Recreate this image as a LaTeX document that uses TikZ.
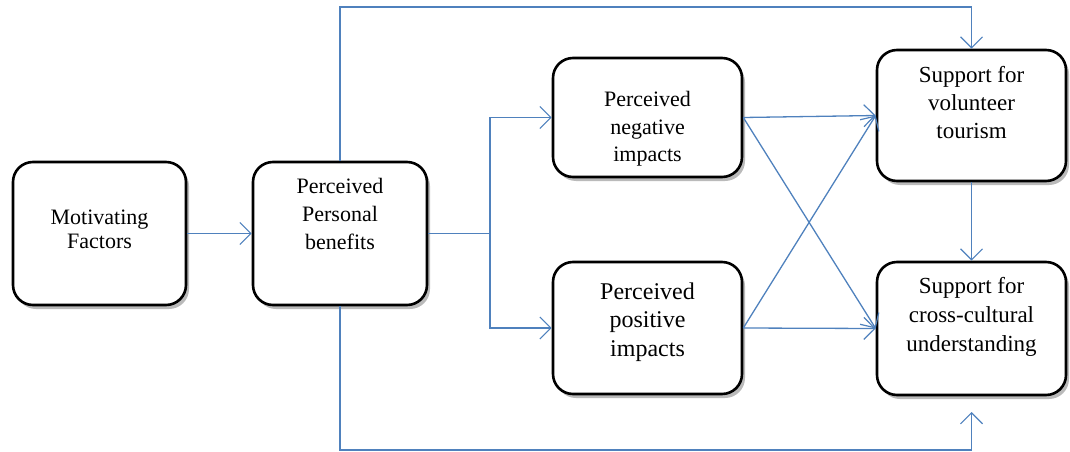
\documentclass[tikz,border=0pt]{standalone}
\usepackage{fontspec}
\setmainfont{Liberation Serif}
\usetikzlibrary{arrows.meta,shadows}
\definecolor{conn}{HTML}{4F81BD}
\tikzset{
  box/.style={draw=black, line width=2.6pt, rounded corners=20pt, fill=white,
    drop shadow={shadow xshift=3pt, shadow yshift=-4pt, fill=black!45, opacity=0.6},
    inner sep=0pt},
  lbl/.style={align=center, inner sep=0pt, font=\fontsize{22}{28}\selectfont},
  arr/.style={draw=conn, line width=1.3pt, -{Straight Barb[length=11pt,width=22pt,line width=1.2pt]}},
  ln/.style={draw=conn, line width=1.3pt}
}
\begin{document}
\begin{tikzpicture}[x=1pt,y=-1pt]
\useasboundingbox (0,0) rectangle (1070,452);
% boxes
\node[box, minimum width=173pt, minimum height=143pt] (mf)  at (99.5,233.5) {};
\node[box, minimum width=174pt, minimum height=143pt] (ppb) at (340,233.5) {};
\node[box, minimum width=189pt, minimum height=119pt] (pni) at (647.5,117.5) {};
\node[box, minimum width=189pt, minimum height=132pt] (ppi) at (647.5,328) {};
\node[box, minimum width=189pt, minimum height=131pt] (svt) at (971.5,115.5) {};
\node[box, minimum width=189pt, minimum height=133pt] (scu) at (971.5,328.5) {};
% texts
\node[lbl, font=\fontsize{22}{24}\selectfont] (mft) at (99.5,229) {Motivating\\Factors};
\node[lbl] (ppbt) at (340,214) {Perceived\\Personal\\benefits};
\node[lbl, font=\fontsize{22}{27.5}\selectfont] (pnit) at (647.5,129) {Perceived\\negative\\impacts};
\node[lbl, font=\fontsize{24}{28.5}\selectfont] (ppit) at (647.5,322) {Perceived\\positive\\impacts};
\node[lbl, font=\fontsize{23}{28}\selectfont] (svtt) at (971.5,103) {Support for\\volunteer\\tourism};
\node[lbl, font=\fontsize{23}{29}\selectfont] (scut) at (971.5,317) {Support for\\cross-cultural\\understanding};
% coordinates
\coordinate (split) at (490,233.5);
\coordinate (topR) at (971.5,7);
\coordinate (botR) at (971.5,450);
\coordinate (scuIn) at (971.5,412);
% connectors
\draw[arr] (mf.east) -- (ppb.west);
\draw[ln] (ppb.east) -- (split);
\draw[arr] (split) |- (pni.west);
\draw[arr] (split) |- (ppi.west);
\draw[arr] (pni.east) -- (svt.west);
\draw[arr] (pni.east) -- (scu.west);
\draw[arr] (ppi.east) -- (scu.west);
\draw[arr] (ppi.east) -- (svt.west);
\draw[arr] (svt.south) -- (scu.north);
\draw[arr] (ppb.north) -- (ppb.north |- topR) -- (topR) -- (svt.north);
\draw[arr] (ppb.south) -- (ppb.south |- botR) -- (botR) -- (scuIn);
\end{tikzpicture}
\end{document}
